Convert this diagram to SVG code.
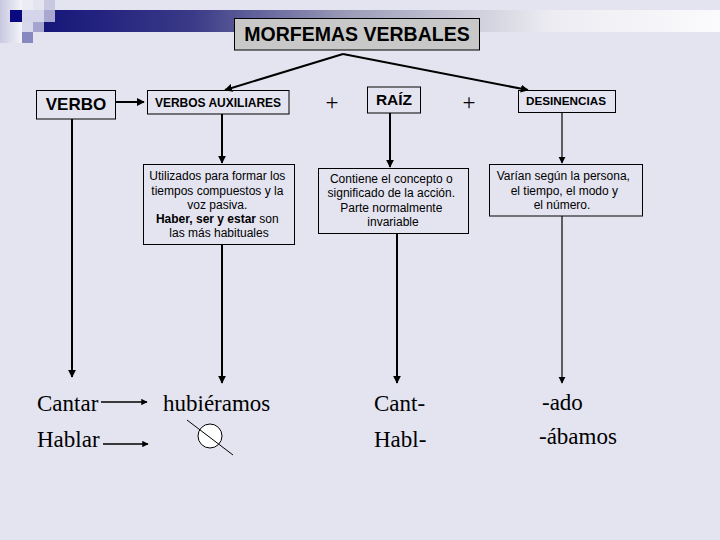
<svg xmlns="http://www.w3.org/2000/svg" width="720" height="540" viewBox="0 0 720 540">
<defs>
<linearGradient id="bar" x1="0" y1="0" x2="1" y2="0">
<stop offset="0" stop-color="#16167a"/>
<stop offset="0.22" stop-color="#3a3a88"/>
<stop offset="0.45" stop-color="#9c9cb8"/>
<stop offset="0.75" stop-color="#ececf2"/>
<stop offset="1" stop-color="#fbfbfd"/>
</linearGradient>
<linearGradient id="strip" x1="0" y1="0" x2="1" y2="0">
<stop offset="0" stop-color="#c8c8e0"/>
<stop offset="1" stop-color="#f4f4fa"/>
</linearGradient>
<marker id="ah" viewBox="0 0 10 10" refX="9" refY="5" markerWidth="4" markerHeight="4" orient="auto" markerUnits="strokeWidth">
<path d="M0,0 L10,5 L0,10 z" fill="#000"/>
</marker>
<marker id="ahs" viewBox="0 0 10 10" refX="9" refY="5" markerWidth="6" markerHeight="6" orient="auto" markerUnits="strokeWidth">
<path d="M0,0 L10,5 L0,10 z" fill="#000"/>
</marker>
</defs>
<style>
.box{fill:none;stroke:#000;stroke-width:1}
.thick{stroke:#000;stroke-width:2;fill:none}
.thin{stroke:#000;stroke-width:1.2;fill:none}
.mid{stroke:#000;stroke-width:1.6;fill:none}
.sans{font-family:"Liberation Sans",Arial,sans-serif;fill:#000}
.b{font-weight:bold}
.small{font-size:12px}
.serif{font-family:"Liberation Serif","Times New Roman",serif;font-size:23px;fill:#000}
</style>
<rect width="720" height="540" fill="#e4e4f0"/>
<g id="decoration">
<rect x="0" y="0" width="22" height="43" fill="url(#strip)"/>
<rect x="44" y="10" width="676" height="22" fill="url(#bar)"/>
<rect x="10" y="10" width="12" height="12" fill="#0a0a80"/>
<rect x="22" y="0" width="11" height="10" fill="#ececf6"/>
<rect x="44" y="0" width="11" height="10" fill="#c8c8e0"/>
<rect x="22" y="10" width="22" height="12" fill="#d4d4ea"/>
<rect x="44" y="10" width="11" height="12" fill="#a8a8d0"/>
<rect x="22" y="22" width="11" height="10" fill="#d8d8ec"/>
<rect x="33" y="22" width="11" height="10" fill="#a4a4cc"/>
<rect x="22" y="32" width="11" height="11" fill="#8888c0"/>
</g>
<g id="connectors">
<line class="thick" x1="343" y1="54" x2="225" y2="90" marker-end="url(#ah)"/>
<line class="thick" x1="343" y1="54" x2="528" y2="90" marker-end="url(#ah)"/>
<line class="thick" x1="116" y1="102" x2="144" y2="102" marker-end="url(#ah)"/>
<line class="thick" x1="222" y1="114" x2="222" y2="163" marker-end="url(#ah)"/>
<line class="thick" x1="390" y1="113" x2="390" y2="167" marker-end="url(#ah)"/>
<line class="thin" x1="562" y1="112" x2="562" y2="163" marker-end="url(#ahs)"/>
<line class="thick" x1="72" y1="119" x2="72" y2="377" marker-end="url(#ah)"/>
<line class="thick" x1="222" y1="244" x2="222" y2="383" marker-end="url(#ah)"/>
<line class="thick" x1="397" y1="233" x2="397" y2="383" marker-end="url(#ah)"/>
<line class="thin" x1="562" y1="216" x2="562" y2="383" marker-end="url(#ahs)"/>
<line class="mid" x1="101" y1="402" x2="147" y2="402" marker-end="url(#ah)"/>
<line class="mid" x1="103" y1="444" x2="148" y2="444" marker-end="url(#ah)"/>
</g>
<g id="title">
<rect x="234.5" y="18.5" width="245" height="31.5" fill="#c8c8c8" stroke="#000" stroke-width="1"/>
<text class="sans b" x="357" y="41" font-size="19.5" text-anchor="middle">MORFEMAS VERBALES</text>
</g>
<g id="verbo">
<rect class="box" x="36.5" y="90.5" width="79" height="28.5"/>
<text class="sans b" x="76" y="110" font-size="17" text-anchor="middle">VERBO</text>
</g>
<g id="aux">
<rect class="box" x="147.5" y="90.5" width="141.5" height="23.5"/>
<text class="sans b" x="218" y="106.5" font-size="12" text-anchor="middle">VERBOS AUXILIARES</text>
</g>
<g id="plus1"><text class="serif" x="332" y="110" font-size="22" text-anchor="middle">+</text></g>
<g id="raiz">
<rect class="box" x="367.5" y="87" width="53" height="26"/>
<text class="sans b" x="394" y="105" font-size="15.5" text-anchor="middle">RAÍZ</text>
</g>
<g id="plus2"><text class="serif" x="469" y="110" font-size="22" text-anchor="middle">+</text></g>
<g id="desinencias">
<rect class="box" x="518.5" y="90.5" width="97" height="22"/>
<text class="sans b" x="566" y="105" font-size="11.7" text-anchor="middle">DESINENCIAS</text>
</g>
<g id="aux-desc">
<rect class="box" x="143.5" y="164.5" width="151" height="80"/>
<text class="sans small" text-anchor="middle">
<tspan x="219" y="180">Utilizados para formar los</tspan>
<tspan x="219" y="194.5">tiempos compuestos y la</tspan>
<tspan x="219" y="208.5">voz pasiva.</tspan>
<tspan x="219" y="222.5"><tspan font-weight="bold">Haber, ser y estar</tspan> son</tspan>
<tspan x="219" y="237">las más habituales</tspan>
</text>
</g>
<g id="raiz-desc">
<rect class="box" x="318.5" y="168.5" width="150" height="65"/>
<text class="sans small" text-anchor="middle">
<tspan x="393" y="182.5">Contiene el concepto o</tspan>
<tspan x="393" y="197">significado de la acción.</tspan>
<tspan x="393" y="211.5">Parte normalmente</tspan>
<tspan x="393" y="225.5">invariable</tspan>
</text>
</g>
<g id="des-desc">
<rect class="box" x="489.5" y="164.5" width="153" height="51.5"/>
<text class="sans small" text-anchor="middle">
<tspan x="565" y="180">Varían según la persona,</tspan>
<tspan x="566" y="195">el tiempo, el modo y</tspan>
<tspan x="562" y="209">el número.</tspan>
</text>
</g>
<g id="examples">
<text class="serif" x="37" y="411">Cantar</text>
<text class="serif" x="37" y="447">Hablar</text>
<text class="serif" x="163" y="411">hubiéramos</text>
<text class="serif" x="374" y="411">Cant-</text>
<text class="serif" x="374" y="447">Habl-</text>
<text class="serif" x="542" y="410">-ado</text>
<text class="serif" x="539" y="444">-ábamos</text>
</g>
<g id="empty-set">
<circle cx="210" cy="436" r="12" fill="#fff" stroke="#000" stroke-width="1"/>
<line x1="187" y1="420" x2="233" y2="455" stroke="#000" stroke-width="1"/>
</g>
</svg>
